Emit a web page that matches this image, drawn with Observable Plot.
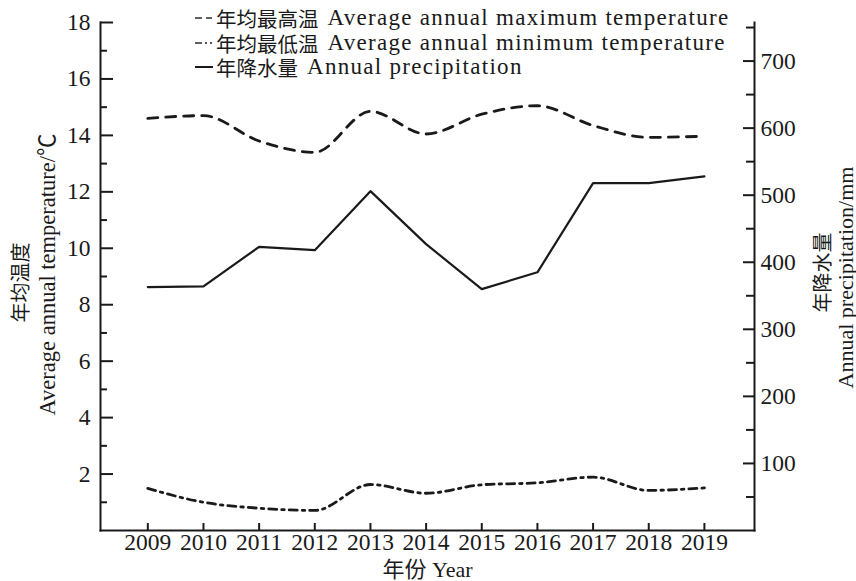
<!DOCTYPE html>
<html>
<head>
<meta charset="utf-8">
<script src="https://cdn.jsdelivr.net/npm/d3@7"></script>
<script src="https://cdn.jsdelivr.net/npm/@observablehq/plot@0.6"></script>
<style>
  html, body { margin: 0; padding: 0; background: #fff; }
  #wrap { position: relative; width: 856px; height: 581px; }
  #legend { position: absolute; left: 195px; top: 6px; font-family: "Liberation Serif", "Noto Sans CJK SC", serif; color: #1a1a1a; }
  #legend .row { height: 24.5px; white-space: nowrap; display: flex; align-items: center; }
  #legend svg { width: 21px; height: 10px; flex: none; }
  #legend span { display: inline-block; height: 22px; line-height: 22px; overflow: visible; }
  #legend .zh { font-family: "Noto Sans CJK SC", sans-serif; font-size: 20.5px; margin-right: 9px; }
  #legend .en { font-size: 23px; letter-spacing: 1.3px; }
</style>
</head>
<body>
<div id="wrap"><div id="legend"></div></div>
<script>
// ---- data ----
const years = [2009, 2010, 2011, 2012, 2013, 2014, 2015, 2016, 2017, 2018, 2019];
const maxTemp = [14.6, 14.7, 13.8, 13.4, 14.85, 14.05, 14.75, 15.05, 14.35, 13.93, 13.97];
const minTemp = [1.49, 1.0, 0.79, 0.71, 1.63, 1.32, 1.62, 1.69, 1.89, 1.42, 1.51];
const precip = [363, 364, 423, 418, 506, 427, 360, 385, 518, 518, 528];
const tempTicks = [2, 4, 6, 8, 10, 12, 14, 16, 18];
const tempMinorTicks = [1, 3, 5, 7, 9, 11, 13, 15, 17];
const precipTicks = [100, 200, 300, 400, 500, 600, 700];
const precipMinorTicks = [50, 150, 250, 350, 450, 550, 650, 750];
const legendZh = ["年均最高温", "年均最低温", "年降水量"];
const legendEn = ["Average annual maximum temperature", "Average annual minimum temperature", "Annual precipitation"];
const yLabelLeftZh = "年均温度";
const yLabelLeftEn = "Average annual temperature/℃";
const yLabelRightZh = "年降水量";
const yLabelRightEn = "Annual precipitation/mm";
const xLabel = "年份 Year";

// precipitation mapped onto the temperature axis (right axis: 0..757.5 mm over 0..18 °C)
const k = 18 / 757.5;
const rows = years.map((y, i) => ({year: y, tmax: maxTemp[i], tmin: minTemp[i], p: precip[i] * k}));

const ink = "#1a1a1a";
const serif = "'Liberation Serif', 'Noto Sans CJK SC', serif";
const zh = "'Noto Sans CJK SC', sans-serif";

const chart = Plot.plot({
  width: 856,
  height: 581,
  marginLeft: 100,
  marginRight: 102,
  marginTop: 22,
  marginBottom: 51,
  style: {fontFamily: serif, fontSize: "23.5px", color: ink, background: "#fff", overflow: "visible"},
  x: {domain: [2008.15, 2019.9]},
  y: {domain: [0, 18]},
  marks: [
    Plot.frame({anchor: "left", stroke: ink, strokeWidth: 2}),
    Plot.frame({anchor: "right", stroke: ink, strokeWidth: 2}),
    Plot.frame({anchor: "bottom", stroke: ink, strokeWidth: 2}),
    // left axis
    Plot.axisY({ticks: tempTicks, tickSize: -13, tickPadding: 23, strokeWidth: 2, stroke: ink, fill: ink, label: null, tickFormat: d => d}),
    Plot.axisY({ticks: tempMinorTicks, tickSize: -7, strokeWidth: 2, stroke: ink, label: null, tickFormat: () => ""}),
    // right axis
    Plot.axisY({anchor: "right", ticks: precipTicks.map(v => v * k), tickSize: -12, tickPadding: 18, strokeWidth: 2, stroke: ink, fill: ink, label: null, tickFormat: d => Math.round(d / k)}),
    Plot.axisY({anchor: "right", ticks: precipMinorTicks.map(v => v * k), tickSize: -9, strokeWidth: 2, stroke: ink, label: null, tickFormat: () => ""}),
    // bottom axis
    Plot.axisX({ticks: years, tickSize: -7, tickPadding: 10, strokeWidth: 2, stroke: ink, fill: ink, label: null, tickFormat: d => String(d)}),
    // axis titles
    Plot.text([yLabelLeftZh], {frameAnchor: "left", rotate: -90, dx: -79, dy: 6, textAnchor: "middle", lineAnchor: "middle", fill: ink, fontSize: 20, fontFamily: zh}),
    Plot.text([yLabelLeftEn], {frameAnchor: "left", rotate: -90, dx: -53, dy: -2, textAnchor: "middle", lineAnchor: "middle", fill: ink, fontSize: 22.5}),
    Plot.text([yLabelRightZh], {frameAnchor: "right", rotate: -90, dx: 69, dy: -4, textAnchor: "middle", lineAnchor: "middle", fill: ink, fontSize: 20, fontFamily: zh}),
    Plot.text([yLabelRightEn], {frameAnchor: "right", rotate: -90, dx: 91, dy: 1, textAnchor: "middle", lineAnchor: "middle", fill: ink, fontSize: 22}),
    Plot.text([xLabel], {frameAnchor: "bottom", dy: 39, lineAnchor: "middle", fill: ink, fontSize: 22}),
    // series
    Plot.line(rows, {x: "year", y: "tmax", stroke: ink, strokeWidth: 2.8, strokeDasharray: "10,8", curve: "monotone-x"}),
    Plot.line(rows, {x: "year", y: "tmin", stroke: ink, strokeWidth: 2.8, strokeDasharray: "8,5,2.5,5", curve: "monotone-x"}),
    Plot.line(rows, {x: "year", y: "p", stroke: ink, strokeWidth: 2.2})
  ]
});
document.getElementById("wrap").prepend(chart);

// legend
const symbols = [
  '<line x1="0" y1="5" x2="7" y2="5"/><line x1="11" y1="5" x2="17" y2="5"/>',
  '<line x1="0" y1="5" x2="7" y2="5"/><line x1="10" y1="5" x2="12" y2="5"/><line x1="15" y1="5" x2="17" y2="5"/>',
  '<line x1="0" y1="5" x2="18" y2="5"/>'
];
const legend = document.getElementById("legend");
legendZh.forEach((lab, i) => {
  const row = document.createElement("div");
  row.className = "row";
  row.innerHTML = `<svg viewBox="0 0 21 10"><g stroke="${ink}" stroke-width="${i === 2 ? 2 : 1.4}">${symbols[i]}</g></svg><span class="zh">${lab}</span><span class="en">${legendEn[i]}</span>`;
  legend.appendChild(row);
});
</script>
</body>
</html>
